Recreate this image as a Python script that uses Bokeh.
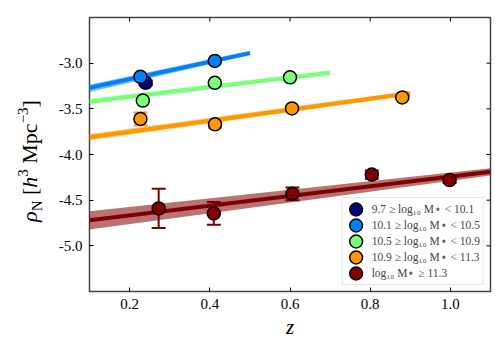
import numpy as np
from bokeh.plotting import figure
from bokeh.layouts import row
from bokeh.models import (FixedTicker, PrintfTickFormatter, Legend, LegendItem, Div)
from bokeh.embed import file_html
from bokeh.resources import INLINE

# ---------------- data ----------------
labels = ["9.7 \u2265 log\u2081\u2080 M\u22c6 < 10.1",
          "10.1 \u2265 log\u2081\u2080 M\u22c6 < 10.5",
          "10.5 \u2265 log\u2081\u2080 M\u22c6 < 10.9",
          "10.9 \u2265 log\u2081\u2080 M\u22c6 < 11.3",
          "log\u2081\u2080 M\u22c6 \u2265 11.3"]
colors = ["#000080", "#0080ff", "#7bff7b", "#ff9700", "#800000"]

z1 = [0.24];                y1 = [-3.215];                        e1 = [0.025]
z2 = [0.227, 0.4125];       y2 = [-3.15, -2.975];                 e2 = [0.015, 0.01]
z3 = [0.233, 0.4125, 0.60]; y3 = [-3.41, -3.215, -3.155];         e3 = [0.012, 0.01, 0.01]
z4 = [0.227, 0.413, 0.605, 0.88]
y4 = [-3.61, -3.67, -3.495, -3.375]
e4 = [0.07, 0.04, 0.012, 0.015]
z5 = [0.2725, 0.41, 0.606, 0.804, 0.998]
y5 = [-4.59, -4.645, -4.43, -4.22, -4.28]
e5 = [0.215, 0.125, 0.07, 0.045, 0.03]

# linear fits (z, best, lower, upper)
fz2 = [0.1, 0.5]; fy2 = [-3.27, -2.89];  flo2 = [-3.315, -2.91];  fhi2 = [-3.235, -2.865]
fz3 = [0.1, 0.7]; fy3 = [-3.42, -3.105]; flo3 = [-3.45, -3.13];   fhi3 = [-3.39, -3.08]
fz4 = [0.1, 0.9]; fy4 = [-3.81, -3.33];  flo4 = [-3.845, -3.355]; fhi4 = [-3.775, -3.305]
fz5 = [0.1, 1.1]; fy5 = [-4.72, -4.19];  flo5 = [-4.82, -4.23];   fhi5 = [-4.62, -4.15]

xticks = [0.2, 0.4, 0.6, 0.8, 1.0]
yticks = [-5.0, -4.5, -4.0, -3.5, -3.0]
x_lim = (0.1, 1.1)
y_lim = (-5.5, -2.5)

SERIF = "Liberation Serif"
FW, FH = 401, 274
TICK = 4

p = figure(width=455, height=350, frame_width=FW, frame_height=FH,
           x_range=x_lim, y_range=y_lim,
           output_backend="svg", toolbar_location=None,
           min_border_left=44, min_border_right=10, min_border_top=17, min_border_bottom=59)
p.xgrid.visible = False
p.ygrid.visible = False
p.outline_line_color = "#444444"
p.outline_line_width = 1.5

for ax in (p.xaxis[0], p.yaxis[0]):
    ax.major_tick_in = TICK
    ax.major_tick_out = 0
    ax.minor_tick_in = 0
    ax.minor_tick_out = 0
    ax.major_tick_line_color = "black"
    ax.axis_line_color = None
    ax.major_label_text_font = SERIF
    ax.major_label_text_font_size = "15px"
    ax.major_label_text_color = "black"
    ax.major_label_standoff = 7

p.xaxis.ticker = FixedTicker(ticks=xticks)
p.yaxis.ticker = FixedTicker(ticks=yticks)
p.xaxis.formatter = PrintfTickFormatter(format="%.1f")
p.yaxis.formatter = PrintfTickFormatter(format="%.1f")
p.xaxis.axis_label = "z"
p.xaxis.axis_label_text_font = SERIF
p.xaxis.axis_label_text_font_style = "italic"
p.xaxis.axis_label_text_font_size = "21px"
p.xaxis.axis_label_standoff = 3
p.xaxis.axis_label_text_color = "black"

# inward ticks on the top and right edges (mirroring the axis ticks)
dy = TICK * (y_lim[1] - y_lim[0]) / FH
dx = TICK * (x_lim[1] - x_lim[0]) / FW
p.segment(x0=xticks, y0=[y_lim[1] - dy] * len(xticks), x1=xticks, y1=[y_lim[1]] * len(xticks),
          line_color="black", line_width=1)
p.segment(x0=[x_lim[1] - dx] * len(yticks), y0=yticks, x1=[x_lim[1]] * len(yticks), y1=yticks,
          line_color="black", line_width=1)

# fits
for fz, fy, flo, fhi, c in [(fz2, fy2, flo2, fhi2, colors[1]),
                            (fz3, fy3, flo3, fhi3, colors[2]),
                            (fz4, fy4, flo4, fhi4, colors[3]),
                            (fz5, fy5, flo5, fhi5, colors[4])]:
    p.varea(x=fz, y1=flo, y2=fhi, fill_color=c, fill_alpha=0.55)
    p.line(fz, fy, line_color=c, line_width=4)

# points with error bars
items = []
for z, y, e, c, lab in [(z1, y1, e1, colors[0], labels[0]),
                        (z2, y2, e2, colors[1], labels[1]),
                        (z3, y3, e3, colors[2], labels[2]),
                        (z4, y4, e4, colors[3], labels[3]),
                        (z5, y5, e5, colors[4], labels[4])]:
    z = np.array(z); y = np.array(y); e = np.array(e)
    p.segment(x0=z, y0=y - e, x1=z, y1=y + e, line_color=c, line_width=2)
    p.scatter(x=np.concatenate([z, z]), y=np.concatenate([y - e, y + e]),
              marker="dash", size=14, line_color=c, line_width=2)
    r = p.ellipse(x=z, y=y, width=13, height=13, width_units="screen", height_units="screen",
                  fill_color=c, line_color="black", line_width=1.5)
    items.append(LegendItem(label=lab, renderers=[r]))

legend = Legend(items=items, location="bottom_right")
legend.label_text_font = SERIF
legend.label_text_font_size = "11.5px"
legend.glyph_width = 20
legend.glyph_height = 16
legend.label_height = 16
legend.spacing = 0
legend.padding = 3
legend.margin = 6
legend.border_line_color = "#cccccc"
legend.border_line_width = 1
legend.background_fill_alpha = 0.85
legend.label_standoff = 6
p.add_layout(legend)

ylabel_html = (
    '<div style="position:absolute; left:30px; top:161px; '
    'transform: translate(-50%, -50%) rotate(-90deg); white-space:nowrap; '
    "font-family:'Liberation Serif', serif; font-size:22px; color:black; line-height:1;\">"
    '<i>\u03c1</i><span style="font-size:15px; position:relative; top:5px;">N</span>'
    ' [<i>h</i><span style="font-size:15px; position:relative; top:-9px;">3</span>'
    ' Mpc<span style="font-size:15px; position:relative; top:-9px;">\u22123</span>]</div>'
)
ylab = Div(text=ylabel_html, width=45, height=350, margin=0)

layout = row(ylab, p, spacing=0)
open("out.html", "w").write(file_html(layout, INLINE))
